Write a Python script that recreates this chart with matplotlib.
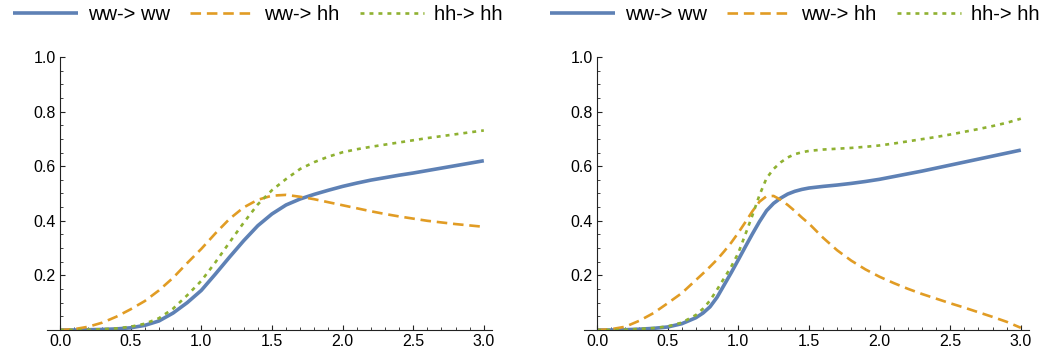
import numpy as np
import matplotlib
matplotlib.use('Agg')
import matplotlib.pyplot as plt
from matplotlib.ticker import MultipleLocator, FixedLocator

plt.rcParams['font.family'] = ['Liberation Sans', 'DejaVu Sans']

# left panel
x_left = [0.0, 0.1, 0.2, 0.3, 0.4, 0.5, 0.6, 0.7, 0.8, 0.9, 1.0,
          1.1, 1.2, 1.3, 1.4, 1.5, 1.6, 1.7, 1.8, 1.9, 2.0,
          2.1, 2.2, 2.3, 2.4, 2.5, 2.6, 2.7, 2.8, 2.9, 3.0]
left_ww_ww = [0, 0, 0.001, 0.002, 0.004, 0.008, 0.017, 0.033, 0.062, 0.10, 0.145,
              0.205, 0.267, 0.327, 0.382, 0.425, 0.458, 0.48, 0.497, 0.512, 0.526,
              0.538, 0.549, 0.558, 0.567, 0.575, 0.584, 0.593, 0.602, 0.611, 0.62]
left_ww_hh = [0, 0.003, 0.012, 0.027, 0.049, 0.076, 0.106, 0.145, 0.191, 0.245, 0.297,
              0.354, 0.407, 0.449, 0.477, 0.492, 0.495, 0.488, 0.479, 0.468, 0.457,
              0.446, 0.435, 0.425, 0.416, 0.408, 0.40, 0.394, 0.388, 0.383, 0.378]
left_hh_hh = [0, 0, 0.001, 0.003, 0.006, 0.012, 0.023, 0.043, 0.078, 0.127, 0.18,
              0.248, 0.321, 0.393, 0.46, 0.512, 0.553, 0.59, 0.615, 0.635, 0.651,
              0.662, 0.671, 0.679, 0.687, 0.695, 0.703, 0.71, 0.717, 0.724, 0.731]

# right panel (finer steps around the steep part)
x_right = [0.0, 0.1, 0.2, 0.3, 0.4, 0.5, 0.6, 0.7, 0.75, 0.8, 0.85, 0.9, 0.95,
           1.0, 1.05, 1.1, 1.15, 1.2, 1.25, 1.3, 1.35, 1.4, 1.45, 1.5,
           1.6, 1.7, 1.8, 1.9, 2.0, 2.1, 2.2, 2.3, 2.4, 2.5, 2.6, 2.7, 2.8, 2.9, 3.0]
right_ww_ww = [0, 0, 0.001, 0.003, 0.006, 0.011, 0.023, 0.045, 0.062, 0.085, 0.12, 0.165, 0.21,
               0.257, 0.305, 0.352, 0.397, 0.437, 0.464, 0.483, 0.498, 0.508, 0.515, 0.52,
               0.526, 0.531, 0.537, 0.544, 0.552, 0.562, 0.572, 0.582, 0.593, 0.604, 0.615,
               0.626, 0.637, 0.648, 0.659]
right_ww_hh = [0, 0.003, 0.012, 0.034, 0.062, 0.098, 0.135, 0.183, 0.207, 0.232, 0.258, 0.288, 0.32,
               0.356, 0.395, 0.435, 0.47, 0.49, 0.491, 0.477, 0.458, 0.436, 0.412, 0.39,
               0.338, 0.292, 0.254, 0.222, 0.195, 0.172, 0.151, 0.132, 0.115, 0.098, 0.082,
               0.065, 0.048, 0.03, 0.008]
right_hh_hh = [0, 0, 0.001, 0.004, 0.007, 0.013, 0.027, 0.055, 0.078, 0.108, 0.148, 0.19, 0.232,
               0.282, 0.35, 0.42, 0.494, 0.556, 0.59, 0.614, 0.632, 0.644, 0.651, 0.656,
               0.661, 0.664, 0.667, 0.671, 0.676, 0.683, 0.691, 0.699, 0.707, 0.716, 0.726,
               0.736, 0.747, 0.759, 0.774]

labels = ['ww-> ww', 'ww-> hh', 'hh-> hh']
colors = ['#5E81B5', '#E19C24', '#8FB131']

W, H = 1057, 354
fig = plt.figure(figsize=(W / 100, H / 100), dpi=100)

# (axes left edge in px, legend centre in px, x values, curves)
panels = [(47.3, 258, x_left, [left_ww_ww, left_ww_hh, left_hh_hh]),
          (584.3, 795, x_right, [right_ww_ww, right_ww_hh, right_hh_hh])]

for left_px, leg_cx, xs, series in panels:
    ax = fig.add_axes([left_px / W, 24 / H, 445 / W, 273 / H])
    l1, = ax.plot(xs, series[0], color=colors[0], lw=2.6, solid_capstyle='butt',
                  solid_joinstyle='round')
    l2, = ax.plot(xs, series[1], color=colors[1], lw=1.9, dashes=(4, 2.2),
                  dash_capstyle='butt')
    l3, = ax.plot(xs, series[2], color=colors[2], lw=1.9, dashes=(1.5, 1.9),
                  dash_capstyle='butt')
    ax.set_xlim(-0.09, 3.06)
    ax.set_ylim(0, 1.0)
    ax.spines['left'].set_position(('data', 0))
    ax.spines['bottom'].set_position(('data', 0))
    ax.spines['top'].set_visible(False)
    ax.spines['right'].set_visible(False)
    for s in ('left', 'bottom'):
        ax.spines[s].set_color('#222222')
        ax.spines[s].set_linewidth(0.8)
    ax.xaxis.set_major_locator(MultipleLocator(0.5))
    ax.xaxis.set_minor_locator(MultipleLocator(0.1))
    ax.yaxis.set_major_locator(FixedLocator([0.2, 0.4, 0.6, 0.8, 1.0]))
    ax.yaxis.set_minor_locator(MultipleLocator(0.05))
    ax.xaxis.set_major_formatter(plt.FuncFormatter(lambda v, p: f'{v:.1f}'))
    ax.yaxis.set_major_formatter(plt.FuncFormatter(lambda v, p: f'{v:.1f}'))
    ax.tick_params(which='major', direction='in', length=3.5, width=0.8,
                   color='#222222', labelsize=11.5, pad=3)
    ax.tick_params(which='minor', direction='in', length=2, width=0.6,
                   color='#222222')
    ax.legend([l1, l2, l3], labels, ncol=3, loc='center',
              bbox_to_anchor=(leg_cx / W, 1 - 15 / H),
              bbox_transform=fig.transFigure, frameon=False, borderpad=0,
              fontsize=14.5, handlelength=3.2, handletextpad=0.5,
              columnspacing=1.0)

fig.savefig('out.png', dpi=100)
